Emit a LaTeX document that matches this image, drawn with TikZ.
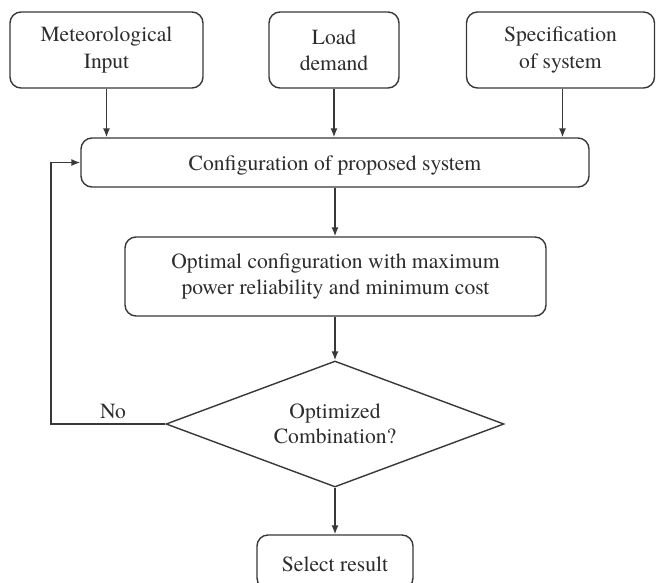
\documentclass[tikz,border=0pt]{standalone}
\usepackage{fontspec}
\setmainfont{texgyretermes}[Extension=.otf, UprightFont=*-regular, BoldFont=*-bold, ItalicFont=*-italic, BoldItalicFont=*-bolditalic]
\usetikzlibrary{shapes.geometric,arrows.meta}
\definecolor{ink}{HTML}{2C2C2C}
\definecolor{edge}{HTML}{383838}
\tikzset{
  box/.style={draw=edge, line width=1.4pt, rounded corners=11pt, rectangle, align=center,
    inner sep=0pt, text=ink, font=\fontsize{21.6}{26.5}\selectfont,
    execute at begin node={\rule{0pt}{20pt}}},
  decision/.style={draw=edge, line width=1.4pt, diamond, align=center, inner sep=0pt,
    aspect=2.68, text=ink, font=\fontsize{21.6}{25.5}\selectfont,
    execute at begin node={\rule{0pt}{18.5pt}}},
  arr/.style={draw=edge, line width=1.4pt, -{Latex[length=9pt,width=7pt]}},
  lbl/.style={text=ink, font=\fontsize{21.6}{26}\selectfont, inner sep=0pt}
}
\begin{document}
\begin{tikzpicture}[x=1pt,y=-1pt]
\useasboundingbox[fill=white] (0,0) rectangle (656,582);
\node[box, minimum width=193pt, minimum height=76pt] (b1) at (106.5,50) {Meteorological\\Input};
\node[box, minimum width=130pt, minimum height=76pt] (b2) at (334,50) {Load\\demand};
\node[box, minimum width=188pt, minimum height=76pt] (b3) at (560.5,50) {Specification\\of system};
\node[box, minimum width=508pt, minimum height=49pt] (cfg) at (335,162.5) {Configuration of proposed system};
\node[box, minimum width=421pt, minimum height=79pt] (opt) at (335.5,276.5) {Optimal configuration with maximum\\power reliability and minimum cost};
\node[decision, minimum width=338pt, minimum height=126pt] (dia) at (335,424) {Optimized\\Combination?};
\node[box, minimum width=156pt, minimum height=54pt] (sel) at (335,562) {Select result};
\coordinate (fb) at (51,424);
\node[lbl] (no) at (113,411) {No};

\draw[arr] (b1.south) -- (b1.south |- cfg.north);
\draw[arr] (b2.south) -- (b2.south |- cfg.north);
\draw[arr] ([xshift=2pt]b3.south) -- ([xshift=2pt]b3.south |- cfg.north);
\draw[arr] (cfg.south) -- (cfg.south |- opt.north);
\draw[arr] (opt.south -| dia.north) -- (dia.north);
\draw[arr] (dia.south) -- (sel.north);
\draw[arr] (dia.west) -- (fb) |- (cfg.west);
\end{tikzpicture}
\end{document}
